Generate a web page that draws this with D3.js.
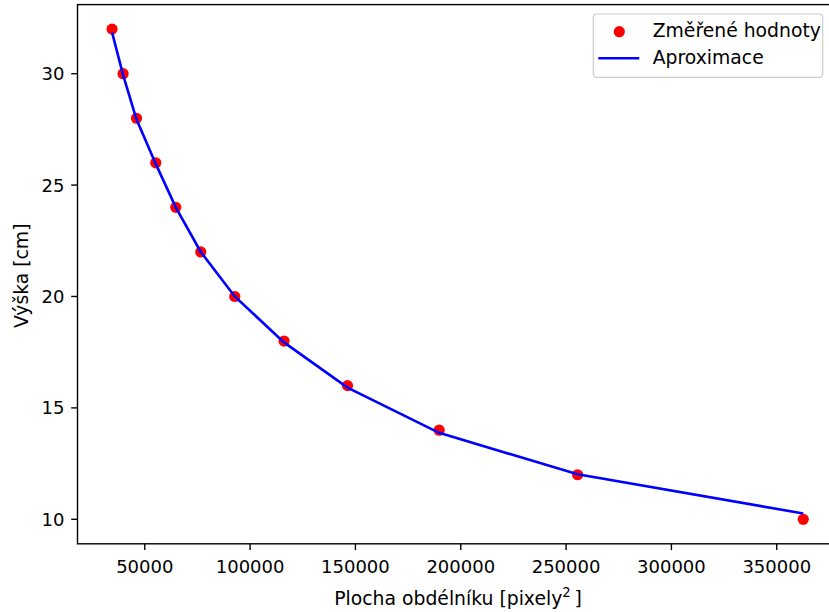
<!DOCTYPE html>
<html><head><meta charset="utf-8">
<script src="https://cdn.jsdelivr.net/npm/d3@7"></script>
<style>
html,body{margin:0;padding:0;background:#fff;}
svg{display:block;}
text{font-family:"DejaVu Sans",sans-serif;fill:#000;}
</style></head>
<body>
<svg id="chart" width="829" height="612"></svg>
<script>
// Data
const plocha = [34470, 39700, 46060, 55220, 64720, 76590, 92730, 116100, 146250, 189750, 255460, 362580];
const vyska  = [32, 30, 28, 26, 24, 22, 20, 18, 16, 14, 12, 10];
const aproximace = [31.85, 29.95, 27.95, 25.95, 24.0, 22.0, 20.0, 17.94, 15.91, 13.88, 12.02, 10.26];
const xTicks = [50000, 100000, 150000, 200000, 250000, 300000, 350000];
const yTicks = [10, 15, 20, 25, 30];
const legendLabels = ["Změřené hodnoty", "Aproximace"];

const svg = d3.select("#chart");
const L = 77.5, T = 4.6, B = 543.8;
const FS = 18, LFS = 18.8;

// matplotlib-like 5% margins
const xe = d3.extent(plocha), xr = xe[1] - xe[0];
const ye = d3.extent(vyska.concat(aproximace)), yr = ye[1] - ye[0];
const x = d3.scaleLinear().domain([xe[0] - 0.05 * xr, xe[1] + 0.05 * xr]).range([L, 837.8]);
const y = d3.scaleLinear().domain([ye[0] - 0.05 * yr, ye[1] + 0.05 * yr]).range([B, T]);
const R = x.range()[1];

// scatter
svg.append("g").selectAll("circle").data(plocha).join("circle")
  .attr("cx", (d) => x(d)).attr("cy", (d, i) => y(vyska[i])).attr("r", 5.6)
  .attr("fill", "#ff0000");

// line
const line = d3.line().x((d) => x(d[0])).y((d) => y(d[1]));
svg.append("path").datum(plocha.map((d, i) => [d, aproximace[i]]))
  .attr("d", line).attr("fill", "none").attr("stroke", "#0000ff").attr("stroke-width", 2.6);

// spines
svg.append("rect").attr("x", L).attr("y", T).attr("width", R - L).attr("height", B - T)
  .attr("fill", "none").attr("stroke", "#000").attr("stroke-width", 1.4);

// x ticks
const gx = svg.append("g");
xTicks.forEach((t) => {
  gx.append("line").attr("x1", x(t)).attr("x2", x(t)).attr("y1", B).attr("y2", B + 6.3)
    .attr("stroke", "#000").attr("stroke-width", 1.4);
  gx.append("text").attr("x", x(t)).attr("y", 572.5).attr("text-anchor", "middle")
    .attr("font-size", FS).text(d3.format("d")(t));
});
// y ticks
const gy = svg.append("g");
yTicks.forEach((t) => {
  gy.append("line").attr("x1", L - 6.3).attr("x2", L).attr("y1", y(t)).attr("y2", y(t))
    .attr("stroke", "#000").attr("stroke-width", 1.4);
  gy.append("text").attr("x", 64.5).attr("y", y(t) + 6.5).attr("text-anchor", "end")
    .attr("font-size", FS).text(t);
});

// axis labels
const xl = svg.append("text").attr("x", 458).attr("y", 604.8).attr("text-anchor", "middle").attr("font-size", LFS);
xl.append("tspan").text("Plocha obdélníku [pixely");
xl.append("tspan").attr("font-size", LFS * 0.7).attr("dy", -7.5).text("2");
xl.append("tspan").attr("dy", 7.5).text("\u2009]");

svg.append("text").attr("transform", "translate(27.5,275.8) rotate(-90)")
  .attr("text-anchor", "middle").attr("font-size", LFS).text("Výška [cm]");

// legend
const lg = svg.append("g");
lg.append("rect").attr("x", 593.3).attr("y", 14).attr("width", 229.4).attr("height", 63.3)
  .attr("rx", 3.5).attr("fill", "#fff").attr("fill-opacity", 0.8)
  .attr("stroke", "#cccccc").attr("stroke-width", 1.2);
lg.append("circle").attr("cx", 619.3).attr("cy", 31.7).attr("r", 5.6).attr("fill", "#ff0000");
lg.append("line").attr("x1", 598.3).attr("x2", 639.3).attr("y1", 58.3).attr("y2", 58.3)
  .attr("stroke", "#0000ff").attr("stroke-width", 2.6);
lg.append("text").attr("x", 652.7).attr("y", 36.5).attr("font-size", LFS).text(legendLabels[0]);
lg.append("text").attr("x", 652.7).attr("y", 64.3).attr("font-size", LFS).text(legendLabels[1]);
</script>
</body></html>
